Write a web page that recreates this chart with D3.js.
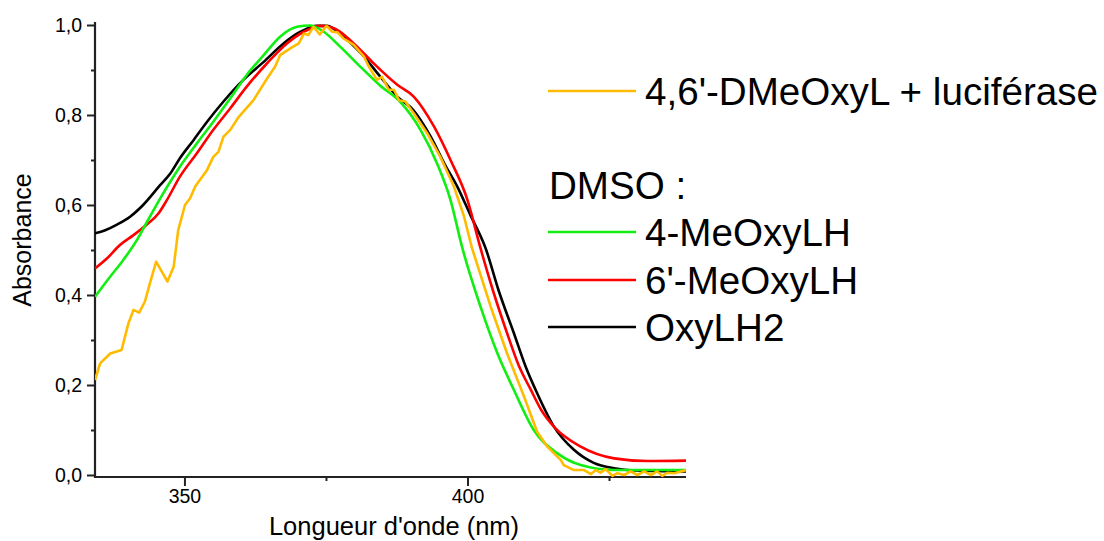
<!DOCTYPE html>
<html>
<head>
<meta charset="utf-8">
<script src="https://cdn.jsdelivr.net/npm/d3@7"></script>
<style>
  html, body { margin: 0; padding: 0; background: #fff; }
  svg { display: block; font-family: "Liberation Sans", Arial, Helvetica, sans-serif; }
</style>
</head>
<body>
<svg id="chart" width="1104" height="541"></svg>
<script>
// ---------- DATA ----------
const xTicksMajor = [350, 400];
const xTicksMinor = [375, 425];
const yTicksMajor = [0, 0.2, 0.4, 0.6, 0.8, 1.0];
const yTicksMinor = [0.1, 0.3, 0.5, 0.7, 0.9];
const xDomain = [334.2, 438.6];
const yDomain = [0, 1];

const seriesNames = ["4,6'-DMeOxyL + luciférase", "4-MeOxyLH", "6'-MeOxyLH", "OxyLH2"];
const seriesColors = ["#FFBB00", "#11EE11", "#FF0000", "#000000"];

// OxyLH2 (DMSO)
const oxyNm = [334.2,336.0,338.0,340.4,342.7,345.7,347.5,349.2,351.6,354.0,356.9,360.4,364.0,367.5,370.5,373.4,375.2,378.1,381.7,384.6,387.6,390.5,393.5,396.0,398.2,400.5,403.2,405.5,408.2,410.3,412.3,415.3,418.8,422.3,425.9,430.0,438.6];
const oxyAbs = [0.537,0.544,0.556,0.574,0.600,0.644,0.670,0.704,0.744,0.785,0.830,0.878,0.918,0.959,0.985,0.998,0.998,0.974,0.930,0.885,0.841,0.810,0.752,0.690,0.641,0.578,0.504,0.410,0.315,0.240,0.182,0.107,0.056,0.027,0.015,0.010,0.008];

// 6'-MeOxyLH (DMSO)
const me6Nm = [334.2,336.3,338.6,341.0,343.3,345.4,346.9,349.2,352.2,355.1,358.1,361.0,364.6,368.1,371.1,374.0,376.4,379.9,383.4,387.6,390.5,394.1,397.0,400.0,402.3,404.5,407.0,409.0,411.2,413.0,415.3,420.0,425.9,431.8,438.6];
const me6Abs = [0.459,0.481,0.511,0.533,0.556,0.581,0.611,0.663,0.715,0.767,0.815,0.863,0.915,0.959,0.985,0.998,0.993,0.959,0.915,0.867,0.841,0.774,0.700,0.611,0.504,0.410,0.315,0.245,0.189,0.145,0.107,0.063,0.037,0.031,0.032];

// 4-MeOxyLH (DMSO)
const me4Nm = [334.2,336.9,339.2,341.6,343.5,346.3,349.2,352.2,355.1,358.1,361.0,364.0,366.9,369.9,372.2,374.6,377.5,381.1,384.6,388.2,391.7,394.6,397.0,399.1,402.3,405.3,408.2,411.7,415.9,420.0,425.9,438.6];
const me4Abs = [0.396,0.441,0.478,0.522,0.565,0.627,0.685,0.737,0.785,0.837,0.889,0.933,0.974,0.996,0.999,0.985,0.952,0.907,0.865,0.828,0.767,0.693,0.611,0.504,0.374,0.270,0.189,0.100,0.048,0.022,0.011,0.011];

// 4,6'-DMeOxyL + luciférase
const lucNm = [334.2,335.1,336.9,338.9,340.1,341.0,342.0,343.0,343.9,345.0,346.0,347.0,348.1,348.9,350.1,351.0,351.9,354.0,355.1,356.0,356.9,358.1,359.6,362.2,364.6,366.0,366.9,368.7,370.2,371.1,371.9,372.8,373.9,375.1,376.1,377.0,378.1,379.9,381.7,382.6,384.0,384.9,386.1,387.0,387.9,389.0,390.5,392.9,395.2,397.6,399.4,400.8,404.1,407.0,410.0,412.3,414.1,416.5,417.0,418.8,420.6,421.8,422.7,423.5,424.4,425.6,426.5,427.7,428.8,430.0,431.2,432.4,433.5,434.4,435.3,436.5,437.7,438.6];
const lucAbs = [0.211,0.248,0.270,0.278,0.337,0.367,0.361,0.385,0.426,0.474,0.452,0.430,0.463,0.544,0.600,0.615,0.641,0.678,0.707,0.718,0.752,0.767,0.796,0.833,0.881,0.907,0.933,0.948,0.959,0.981,0.978,0.996,0.979,0.998,0.985,0.984,0.970,0.956,0.930,0.907,0.878,0.885,0.856,0.856,0.833,0.830,0.804,0.759,0.707,0.641,0.574,0.504,0.374,0.270,0.174,0.096,0.063,0.033,0.022,0.011,0.011,0.002,0.011,0.005,0.013,-0.002,0.004,0.000,0.008,0.000,0.008,0.000,0.008,-0.002,0.005,0.004,0.008,0.011];

// ---------- CHART ----------
const svg = d3.select("#chart");
const x = d3.scaleLinear().domain(xDomain).range([95, 686]);
const y = d3.scaleLinear().domain(yDomain).range([475, 25]);
const axisY = y(0) + 2;

const fmt = v => d3.format(".1f")(v).replace(".", ",");

// Y axis
const gy = svg.append("g").attr("transform", `translate(${x(xDomain[0])},0)`);
gy.call(d3.axisLeft(y).tickValues(yTicksMajor).tickSize(8).tickPadding(5).tickFormat(fmt).tickSizeOuter(0));
gy.select(".domain").remove();
gy.selectAll(".tick line").attr("stroke", "#222").attr("stroke-width", 2);
gy.selectAll(".tick text").attr("font-size", 19.5).attr("fill", "#000")
  .attr("font-family", "Liberation Sans, Arial, sans-serif");
const gym = svg.append("g").attr("transform", `translate(${x(xDomain[0])},0)`);
gym.call(d3.axisLeft(y).tickValues(yTicksMinor).tickSize(4).tickFormat(""));
gym.select(".domain").remove();
gym.selectAll(".tick line").attr("stroke", "#222").attr("stroke-width", 2);

// X axis
const gx = svg.append("g").attr("transform", `translate(0,${axisY})`);
gx.call(d3.axisBottom(x).tickValues(xTicksMajor).tickSize(9).tickPadding(3).tickFormat(d3.format("d")).tickSizeOuter(0));
gx.select(".domain").remove();
gx.selectAll(".tick line").attr("stroke", "#222").attr("stroke-width", 2);
gx.selectAll(".tick text").attr("font-size", 19.5).attr("fill", "#000")
  .attr("font-family", "Liberation Sans, Arial, sans-serif");
const gxm = svg.append("g").attr("transform", `translate(0,${axisY})`);
gxm.call(d3.axisBottom(x).tickValues(xTicksMinor).tickSize(4).tickFormat(""));
gxm.select(".domain").remove();
gxm.selectAll(".tick line").attr("stroke", "#222").attr("stroke-width", 2);

// axis lines
svg.append("line").attr("x1", x(xDomain[0])).attr("x2", x(xDomain[0]))
  .attr("y1", y(1) - 3).attr("y2", axisY + 1).attr("stroke", "#222").attr("stroke-width", 2.2);
svg.append("line").attr("x1", x(xDomain[0]) - 1).attr("x2", x(xDomain[1]))
  .attr("y1", axisY).attr("y2", axisY).attr("stroke", "#222").attr("stroke-width", 2.2);

// axis titles
svg.append("text").attr("x", 394).attr("y", 535).attr("text-anchor", "middle")
  .attr("font-size", 25.5).text("Longueur d'onde (nm)");
svg.append("text").attr("transform", "translate(31,240) rotate(-90)").attr("text-anchor", "middle")
  .attr("font-size", 25).text("Absorbance");

// curves
const clip = svg.append("clipPath").attr("id", "plotclip").append("rect")
  .attr("x", x(xDomain[0])).attr("y", 0).attr("width", x(xDomain[1]) - x(xDomain[0])).attr("height", axisY + 2);

const smooth = d3.line().x(d => x(d[0])).y(d => y(d[1])).curve(d3.curveMonotoneX);
const jagged = d3.line().x(d => x(d[0])).y(d => y(d[1])).curve(d3.curveLinear);

const series = [
  { nm: oxyNm, a: oxyAbs, color: seriesColors[3], line: smooth },
  { nm: me6Nm, a: me6Abs, color: seriesColors[2], line: smooth },
  { nm: me4Nm, a: me4Abs, color: seriesColors[1], line: smooth },
  { nm: lucNm, a: lucAbs, color: seriesColors[0], line: jagged }
];
const gCurves = svg.append("g").attr("clip-path", "url(#plotclip)");
series.forEach(s => {
  gCurves.append("path")
    .datum(d3.zip(s.nm, s.a))
    .attr("fill", "none")
    .attr("stroke", s.color)
    .attr("stroke-width", 2.6)
    .attr("stroke-linejoin", "round")
    .attr("d", s.line);
});

// legend
const legend = svg.append("g");
const legItems = [
  { name: seriesNames[0], color: seriesColors[0], ly: 91 },
  { name: seriesNames[1], color: seriesColors[1], ly: 232 },
  { name: seriesNames[2], color: seriesColors[2], ly: 280 },
  { name: seriesNames[3], color: seriesColors[3], ly: 327 }
];
legItems.forEach(it => {
  legend.append("line").attr("x1", 548).attr("x2", 636).attr("y1", it.ly).attr("y2", it.ly)
    .attr("stroke", it.color).attr("stroke-width", 2.6);
  legend.append("text").attr("x", 645).attr("y", it.ly + 13.5).attr("font-size", 38.6)
    .attr("fill", "#000").text(it.name);
});
legend.append("text").attr("x", 549).attr("y", 199).attr("font-size", 38.6).attr("fill", "#000").text("DMSO :");
</script>
</body>
</html>
